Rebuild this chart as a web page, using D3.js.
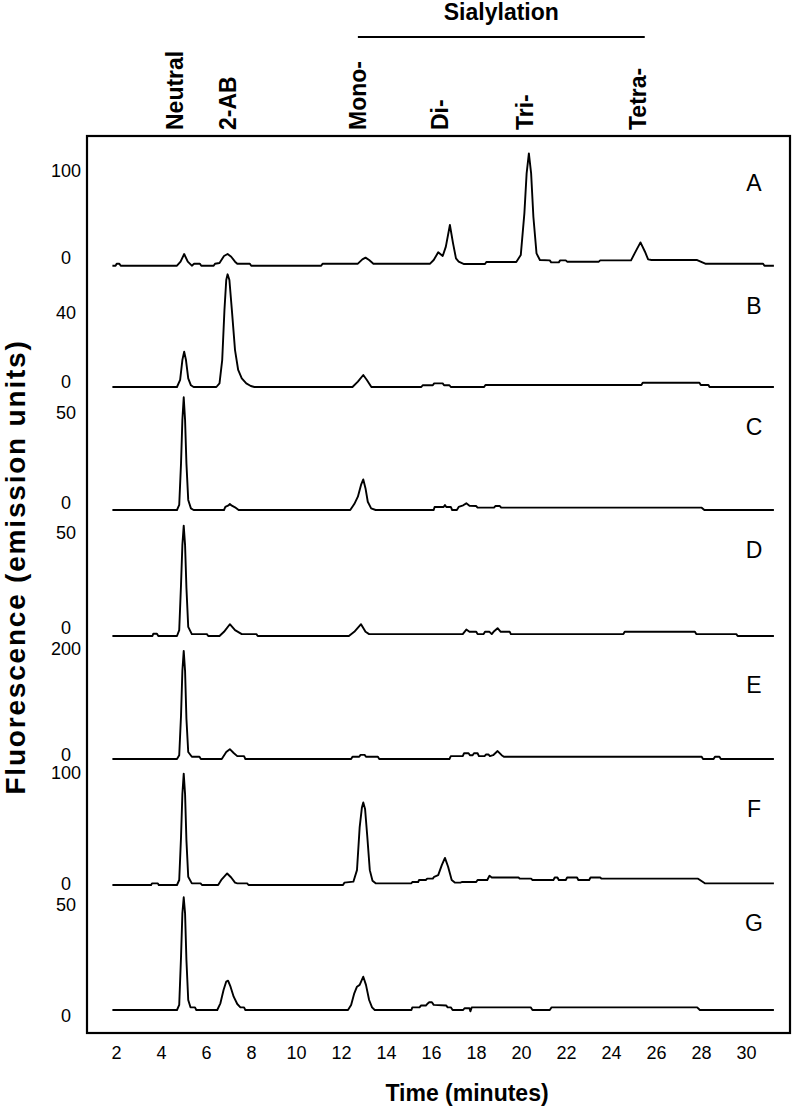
<!DOCTYPE html>
<html><head><meta charset="utf-8">
<script src="https://cdn.jsdelivr.net/npm/d3@7/dist/d3.min.js"></script>
<style>body{margin:0;background:#fff}svg{display:block}</style>
</head><body>
<svg id="chart" width="800" height="1107"></svg>
<script>
// ---------------- DATA ----------------
const timeTicks = [2,4,6,8,10,12,14,16,18,20,22,24,26,28,30];
const panelNames = ["A","B","C","D","E","F","G"];
const panelTopTicks = [100,40,50,50,200,100,50];
const peakLabels = ["Neutral","2-AB","Mono-","Di-","Tri-","Tetra-"];
const peakLabelTimes = [4.6,6.98,12.76,16.4,20.17,25.2];
const groupLabel = "Sialylation";
const groupRange = [12.75,25.5];

// [time (min), fluorescence]
const traceA = [[1.84,0],[1.98,0],[2.03,2.3],[2.15,2.3],[2.21,0],[4.71,0],[4.87,4.6],[5.03,13.4],[5.19,4.6],[5.37,0],[5.47,2.3],[5.73,2.3],[5.79,0],[6.34,0],[6.40,2.3],[6.60,3.1],[6.80,11.1],[6.96,13.4],[7.12,10.3],[7.29,4.6],[7.39,2.3],[7.95,2.3],[8.01,0],[11.12,0],[11.18,2.3],[12.75,2.3],[12.95,7.3],[13.09,9.2],[13.25,6.5],[13.44,2.3],[15.96,2.3],[16.12,6.5],[16.32,15.3],[16.52,11.1],[16.66,21.8],[16.84,46.6],[16.98,25.6],[17.11,8.4],[17.23,4.6],[17.47,1.9],[18.40,1.9],[18.46,4.2],[19.79,4.2],[19.99,12.2],[20.15,59.9],[20.25,105.8],[20.35,128.7],[20.45,105.8],[20.55,56.1],[20.69,14.1],[20.84,6.5],[21.28,6.1],[21.34,3.8],[21.68,3.8],[21.74,6.1],[21.99,6.1],[22.05,4.6],[23.46,4.6],[23.52,6.1],[24.89,6.1],[25.05,14.1],[25.31,26.7],[25.51,16.0],[25.65,7.3],[25.80,6.5],[27.83,6.5],[28.19,2.3],[30.76,2.3],[30.82,0],[31.24,0]];
const traceB = [[1.84,0],[4.71,0],[4.85,4.1],[4.95,15.7],[5.03,20.6],[5.11,15.7],[5.21,5.0],[5.33,1.0],[5.45,0],[6.46,0],[6.60,2.1],[6.72,15.7],[6.82,44.8],[6.90,62.3],[6.96,65.6],[7.04,62.3],[7.15,44.8],[7.29,21.5],[7.43,9.9],[7.59,5.0],[7.79,2.1],[7.99,0.6],[8.15,0],[12.51,0],[12.75,3.1],[12.99,7.0],[13.15,4.1],[13.35,0],[15.57,0],[15.63,1.0],[16.08,1.0],[16.14,2.1],[16.52,2.1],[16.58,1.0],[16.82,1.0],[16.88,0],[18.36,0],[18.42,1.2],[25.35,1.2],[25.41,2.5],[27.93,2.5],[27.99,1.2],[28.33,1.2],[28.38,0],[31.24,0]];
const traceC = [[1.84,0],[4.71,0],[4.81,2.8],[4.89,25.9],[4.95,50],[5.01,62.6],[5.07,50],[5.13,25.9],[5.21,5.6],[5.33,0.9],[5.45,0],[6.80,0],[6.86,1.7],[7.0,2.6],[7.06,3.3],[7.15,2.4],[7.29,1.5],[7.45,0],[12.41,0],[12.59,3.3],[12.75,7.4],[12.89,13.9],[12.99,17.0],[13.09,12.0],[13.19,4.6],[13.34,0.9],[13.54,0],[16.12,0],[16.16,1.7],[16.56,1.7],[16.62,2.8],[16.68,1.7],[16.88,1.7],[16.94,0],[17.15,0],[17.23,1.7],[17.43,2.6],[17.57,3.7],[17.71,2.4],[18.01,2.2],[18.07,1.3],[18.80,1.3],[18.86,2.2],[19.06,2.2],[19.12,1.3],[28.03,1.3],[28.15,0],[31.24,0]];
const traceD = [[1.84,0],[3.62,0],[3.66,1.2],[3.82,1.2],[3.88,0],[4.71,0],[4.81,3.1],[4.89,27.1],[4.95,47.8],[5.01,58.1],[5.07,47.8],[5.13,25.4],[5.21,4.8],[5.37,1.0],[6.04,1.0],[6.10,0],[6.60,0],[6.80,2.2],[7.06,6.2],[7.29,3.1],[7.59,1.0],[8.24,1.0],[8.30,0],[12.35,0],[12.59,2.2],[12.89,6.2],[13.09,2.2],[13.25,1.0],[17.41,1.0],[17.57,3.4],[17.71,2.2],[18.01,2.2],[18.07,1.0],[18.34,1.0],[18.40,2.2],[18.60,2.2],[18.70,1.0],[18.78,2.2],[18.96,4.1],[19.10,2.2],[19.50,2.2],[19.55,1.0],[24.55,1.0],[24.61,2.2],[27.73,2.2],[27.79,1.0],[29.57,1.0],[29.63,0],[31.24,0]];
const traceE = [[1.84,0],[4.71,0],[4.81,7.2],[4.89,82],[4.95,166],[5.01,204],[5.07,166],[5.13,76],[5.21,13.2],[5.37,4.2],[5.71,4.2],[5.77,0],[6.70,0],[6.90,13.2],[7.06,18.6],[7.23,11.4],[7.39,5.4],[7.69,5.4],[7.75,0],[12.45,0],[12.51,4.2],[12.81,4.2],[12.87,7.8],[13.05,7.8],[13.11,4.2],[13.64,4.2],[13.70,0],[16.82,0],[16.88,5.4],[17.41,5.4],[17.47,10.8],[17.67,10.8],[17.73,7.2],[17.85,7.2],[17.91,10.8],[18.07,10.8],[18.13,5.4],[18.38,5.4],[18.44,8.4],[18.56,8.4],[18.62,5.4],[18.76,7.2],[18.96,15.0],[19.14,7.2],[19.24,4.2],[28.03,4.2],[28.09,0],[28.56,0],[28.62,4.2],[28.82,4.2],[28.88,0],[31.24,0]];
const traceF = [[1.84,0],[3.56,0],[3.60,1.5],[3.86,1.5],[3.90,0],[4.71,0],[4.81,4.5],[4.89,43.2],[4.95,81.8],[5.01,100.3],[5.07,81.8],[5.13,40.2],[5.21,7.4],[5.37,1.5],[5.76,1.5],[5.82,0],[6.54,0],[6.70,5.1],[6.94,10.4],[7.12,6.8],[7.29,2.1],[7.39,1.5],[7.83,1.5],[7.89,0],[12.09,0],[12.15,2.1],[12.55,3.0],[12.71,13.4],[12.83,52.1],[12.93,69.9],[12.99,74.4],[13.07,68.5],[13.17,43.2],[13.28,13.4],[13.40,3.9],[13.54,1.5],[15.13,1.5],[15.17,2.7],[15.43,2.7],[15.47,4.5],[15.77,4.5],[15.83,5.7],[16.08,5.7],[16.14,7.4],[16.32,8.9],[16.48,17.9],[16.62,24.4],[16.76,16.4],[16.92,4.5],[17.07,2.1],[17.31,2.1],[17.37,2.7],[18.01,2.7],[18.07,4.5],[18.50,4.5],[18.60,8.3],[18.70,6.8],[19.89,6.8],[19.95,5.7],[20.45,5.7],[20.51,4.5],[21.44,4.5],[21.50,6.8],[21.62,6.8],[21.68,4.5],[21.99,4.5],[22.05,6.8],[22.49,6.8],[22.55,4.5],[23.03,4.5],[23.09,6.8],[23.52,6.8],[23.58,5.7],[27.87,5.7],[28.17,1.5],[31.24,1.5]];
const traceG = [[1.84,0],[4.71,0],[4.81,2.3],[4.89,24],[4.95,43.5],[5.01,50.8],[5.07,43.5],[5.13,22.5],[5.21,4.5],[5.31,1.2],[5.51,1.2],[5.57,0],[6.50,0],[6.64,3.0],[6.78,9.0],[6.90,12.8],[6.98,13.2],[7.09,10.5],[7.23,6.0],[7.39,2.7],[7.53,1.2],[7.69,1.2],[7.75,0],[12.31,0],[12.45,2.3],[12.59,7.5],[12.71,10.5],[12.83,11.3],[12.99,15.0],[13.11,11.3],[13.25,4.5],[13.38,1.2],[13.50,0],[15.13,0],[15.17,1.2],[15.49,1.2],[15.55,2.0],[15.77,2.0],[15.83,2.7],[15.92,3.5],[16.04,3.5],[16.12,2.3],[16.68,2.0],[16.74,1.2],[16.88,1.2],[16.96,0],[17.43,0],[17.49,0.8],[17.71,0.8],[17.75,-0.6],[17.81,1.2],[20.43,1.2],[20.51,0],[21.28,0],[21.36,1.2],[27.83,1.2],[27.95,0],[31.24,0]];
const traces = [traceA,traceB,traceC,traceD,traceE,traceF,traceG];

// ---------------- LAYOUT ----------------
const frame = {x0:87, x1:790, y0:136, y1:1033};
// per panel: pixel of trace baseline, pixel of "0" label, pixel of top label, letter y
const panelLayout = [
  {base:265.7, zero:258,   top:170.7, letter:183},
  {base:387,   zero:381.7, top:313,   letter:305.7},
  {base:510,   zero:503,   top:413,   letter:426.7},
  {base:636,   zero:628,   top:533,   letter:550},
  {base:759,   zero:755,   top:649,   letter:685},
  {base:885,   zero:884,   top:773,   letter:809},
  {base:1010,  zero:1016,  top:905,   letter:923}
];
const FONT = "'Liberation Sans', Arial, Helvetica, sans-serif";

const svg = d3.select("#chart");
svg.append("rect").attr("width",800).attr("height",1107).attr("fill","#fff");

const x = d3.scaleLinear().domain([2,30]).range([116,746]);

// frame
svg.append("rect").attr("x",frame.x0).attr("y",frame.y0)
  .attr("width",frame.x1-frame.x0).attr("height",frame.y1-frame.y0)
  .attr("fill","none").attr("stroke","#000").attr("stroke-width",2.2);

// x axis (labels only)
const xAxis = d3.axisBottom(x).tickValues(timeTicks).tickSize(0).tickPadding(0);
const gx = svg.append("g").attr("transform",`translate(0,1046)`).call(xAxis);
gx.select(".domain").remove();
gx.selectAll("text").attr("font-family",FONT).attr("font-size",18).attr("fill","#000").attr("dy","0.71em");

svg.append("text").attr("x",467).attr("y",1101).attr("text-anchor","middle")
  .attr("font-family",FONT).attr("font-weight","bold").attr("font-size",23).text("Time (minutes)");

svg.append("text").attr("transform","translate(25,567) rotate(-90)").attr("text-anchor","middle")
  .attr("font-family",FONT).attr("font-weight","bold").attr("font-size",28).attr("letter-spacing",1.8)
  .text("Fluorescence (emission units)");

// panels
const line = d3.line().curve(d3.curveLinear);
panelNames.forEach((name,i)=>{
  const L = panelLayout[i];
  const top = panelTopTicks[i];
  const y = d3.scaleLinear().domain([0,top]).range([L.base, L.base-(L.zero-L.top)]);
  const off = L.zero - L.base;
  const g = svg.append("g");
  g.append("path").attr("d", line.x(d=>x(d[0])).y(d=>y(d[1]))(traces[i]))
    .attr("fill","none").attr("stroke","#000").attr("stroke-width",1.9).attr("stroke-linejoin","round");
  [0,top].forEach(v=>{
    g.append("text").attr("x",66).attr("y",y(v)+off).attr("dy","0.35em")
      .attr("text-anchor","middle").attr("font-family",FONT).attr("font-size",18).text(v);
  });
  g.append("text").attr("x",754).attr("y",L.letter).attr("dy","0.36em").attr("text-anchor","middle")
    .attr("font-family",FONT).attr("font-size",23).text(name);
});

// peak labels (rotated)
peakLabels.forEach((t,i)=>{
  svg.append("text").attr("transform",`translate(${x(peakLabelTimes[i])+8},130) rotate(-90)`)
    .attr("font-family",FONT).attr("font-weight","bold").attr("font-size",23).text(t);
});
svg.append("line").attr("x1",x(groupRange[0])).attr("x2",x(groupRange[1]))
  .attr("y1",37).attr("y2",37).attr("stroke","#000").attr("stroke-width",2);
svg.append("text").attr("x",x((groupRange[0]+groupRange[1])/2)).attr("y",20).attr("text-anchor","middle")
  .attr("font-family",FONT).attr("font-weight","bold").attr("font-size",23).text(groupLabel);
</script>
</body></html>
